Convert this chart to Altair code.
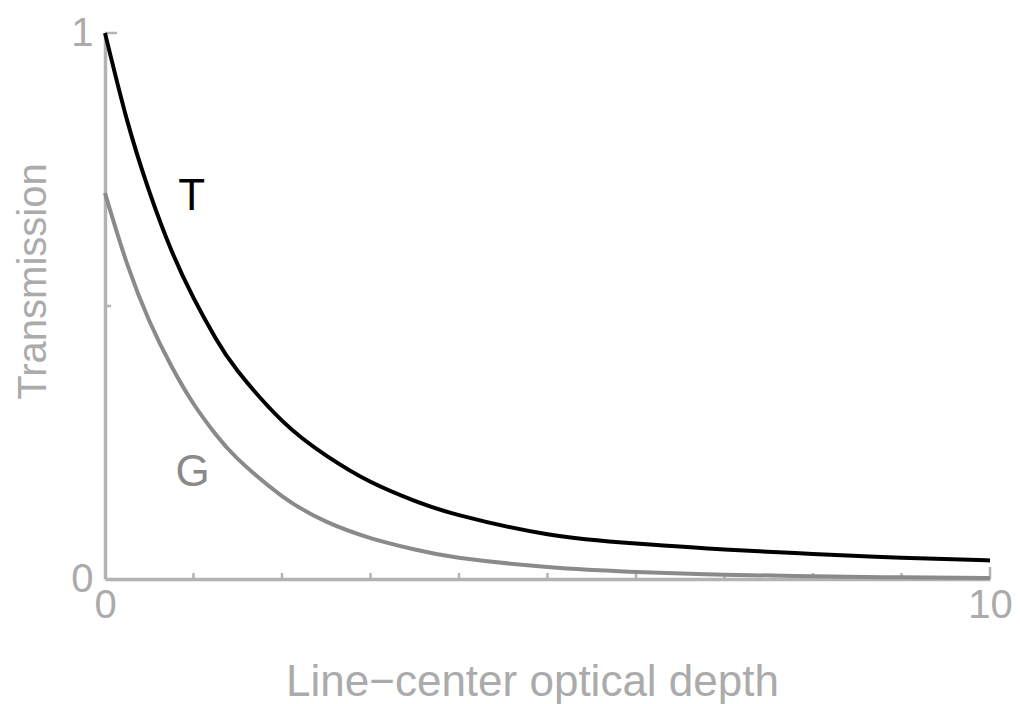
import altair as alt
import pandas as pd

# Line-center optical depth
tau = [0, 0.25, 0.5, 0.75, 1, 1.25, 1.5, 2, 2.5, 3, 3.5, 4, 5, 6, 7, 8, 9, 10]
# Transmission curves
trans_T = [1.000, 0.840, 0.710, 0.602, 0.515, 0.441, 0.381, 0.290, 0.226, 0.178,
           0.143, 0.117, 0.082, 0.065, 0.054, 0.046, 0.039, 0.034]
trans_G = [0.707, 0.577, 0.473, 0.390, 0.321, 0.265, 0.220, 0.152, 0.105, 0.075,
           0.054, 0.039, 0.022, 0.013, 0.008, 0.005, 0.003, 0.002]

# curve labels and their positions
curve_names = ["T", "G"]
label_tau = [0.98, 0.99]
label_val = [0.70, 0.195]
curve_colors = ["#000000", "#8a8a8a"]

# inward tick positions
x_minor = [1, 2, 3, 4, 5, 6, 7, 8, 9]
x_major = [10]
y_minor = [0.5]
y_major = [1]

AXIS_GRAY = "#b3b3b3"
TEXT_GRAY = "#ababab"
FONT = "Liberation Sans"

curves = pd.DataFrame({
    "tau": tau * 2,
    "value": trans_T + trans_G,
    "curve": ["T"] * len(tau) + ["G"] * len(tau),
})
labels = pd.DataFrame({"tau": label_tau, "value": label_val, "curve": curve_names})

x_scale = alt.Scale(domain=[0, 10], nice=False, zero=False)
y_scale = alt.Scale(domain=[0, 1], nice=False, zero=False)
color_scale = alt.Scale(domain=curve_names, range=curve_colors)

x_axis = alt.Axis(
    values=[0, 10], format="d", ticks=False, grid=False,
    domainColor=AXIS_GRAY, domainWidth=3.5,
    labelFont=FONT, labelFontSize=40, labelColor=TEXT_GRAY, labelPadding=6,
    labelFlush=False,
    title="Line\u2212center optical depth",
    titleFont=FONT, titleFontSize=44, titleFontWeight="normal", titleColor=TEXT_GRAY,
    titleX=427, titleY=116, titleBaseline="alphabetic", titleAlign="center",
)
y_axis = alt.Axis(
    values=[0, 1], format="d", ticks=False, grid=False,
    domainColor=AXIS_GRAY, domainWidth=3.5,
    labelFont=FONT, labelFontSize=40, labelColor=TEXT_GRAY, labelPadding=12,
    labelFlush=False,
    title="Transmission",
    titleFont=FONT, titleFontSize=40, titleFontWeight="normal", titleColor=TEXT_GRAY,
    titleAngle=-90, titleX=-72, titleY=248, titleBaseline="middle", titleAlign="center",
)

lines = alt.Chart(curves).mark_line(strokeWidth=4, interpolate="natural").encode(
    x=alt.X("tau:Q", scale=x_scale, axis=x_axis),
    y=alt.Y("value:Q", scale=y_scale, axis=y_axis),
    color=alt.Color("curve:N", scale=color_scale, legend=None),
    detail="curve:N",
)

texts = alt.Chart(labels).mark_text(font=FONT, fontSize=44, baseline="middle", align="center").encode(
    x=alt.X("tau:Q", scale=x_scale),
    y=alt.Y("value:Q", scale=y_scale),
    text="curve:N",
    color=alt.Color("curve:N", scale=color_scale, legend=None),
)

H = 546

def x_ticks(vals, length):
    return alt.Chart(pd.DataFrame({"tau": vals, "base": [0] * len(vals)})).mark_rule(
        color=AXIS_GRAY, strokeWidth=2.5
    ).encode(
        x=alt.X("tau:Q", scale=x_scale),
        y=alt.Y("base:Q", scale=y_scale),
        y2=alt.value(H - length),
    )

def y_ticks(vals, length):
    return alt.Chart(pd.DataFrame({"value": vals})).mark_rule(
        color=AXIS_GRAY, strokeWidth=2.5
    ).encode(
        y=alt.Y("value:Q", scale=y_scale),
        x=alt.value(0),
        x2=alt.value(length),
    )

chart = alt.layer(
    x_ticks(x_minor, 6), x_ticks(x_major, 12),
    y_ticks(y_minor, 6), y_ticks(y_major, 12),
    lines, texts,
).properties(
    width=885, height=H,
    background="white",
    autosize=alt.AutoSizeParams(type="none"),
    padding={"left": 105, "top": 33, "right": 30, "bottom": 125},
).configure_view(strokeWidth=0, stroke=None)

chart.save("out.html", embed_options={"renderer": "svg", "actions": False})
